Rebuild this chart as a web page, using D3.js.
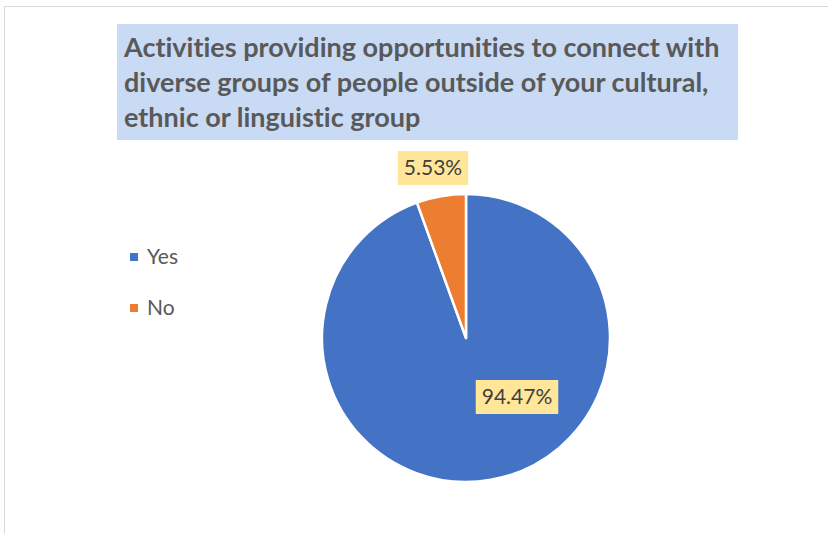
<!DOCTYPE html>
<html>
<head>
<meta charset="utf-8">
<script src="https://cdn.jsdelivr.net/npm/d3@7"></script>
<style>
  html, body { margin: 0; padding: 0; background: #fff; }
  svg { display: block; }
  text { font-variant-ligatures: none; }
</style>
</head>
<body>
<svg id="chart" width="828" height="534"></svg>
<script>
// Survey responses
const categories = ["Yes", "No"];
const values = [94.47, 5.53];
const colors = ["#4472C4", "#ED7D31"];
const titleLines = [
  "Activities providing opportunities to connect with",
  "diverse groups of people outside of your cultural,",
  "ethnic or linguistic group"
];

const svg = d3.select("#chart");
const font = "Lato, 'Open Sans', sans-serif";

// chart frame
svg.append("path")
  .attr("d", "M4.5,534 V6.5 H828")
  .attr("fill", "none")
  .attr("stroke", "#d9d9d9")
  .attr("stroke-width", 1);

// title block
svg.append("rect")
  .attr("x", 117).attr("y", 24).attr("width", 621).attr("height", 116)
  .attr("fill", "#C9DAF4");

const title = svg.append("text")
  .attr("font-family", font)
  .attr("font-weight", "bold")
  .attr("font-size", 27)
  .attr("fill", "#595959");
titleLines.forEach((line, i) => {
  title.append("tspan").attr("x", 124).attr("y", 57 + i * 35).text(line);
});

// pie
const cx = 466, cy = 338, r = 144;
const pie = d3.pie().sort(null).value(d => d)(values);
const arc = d3.arc().innerRadius(0).outerRadius(r);
const g = svg.append("g").attr("transform", `translate(${cx},${cy})`);
g.selectAll("path")
  .data(pie)
  .join("path")
  .attr("d", arc)
  .attr("fill", (d, i) => colors[i])
  .attr("stroke", "#fff")
  .attr("stroke-width", 2.5)
  .attr("stroke-linejoin", "round");

// data labels
const fmt = v => v.toFixed(2) + "%";
const labelPos = [
  [517, 397],   // Yes label centre
  [433, 168]    // No label centre
];
pie.forEach((d, i) => {
  const lg = svg.append("g").attr("transform", `translate(${labelPos[i][0]},${labelPos[i][1]})`);
  const t = lg.append("text")
    .attr("text-anchor", "middle")
    .attr("dy", "0.35em")
    .attr("font-family", font)
    .attr("font-size", 21)
    .attr("fill", "#404040")
    .text(fmt(d.data));
  const bb = t.node().getBBox();
  lg.insert("rect", "text")
    .attr("x", bb.x - 6).attr("y", -17)
    .attr("width", bb.width + 12).attr("height", 34)
    .attr("fill", "#FFE699");
});

// legend
const legend = svg.append("g");
categories.forEach((c, i) => {
  const y = 257 + i * 51;
  legend.append("rect")
    .attr("x", 130).attr("y", y - 4).attr("width", 8).attr("height", 8)
    .attr("fill", colors[i]);
  legend.append("text")
    .attr("x", 147).attr("y", y).attr("dy", "0.35em")
    .attr("font-family", font)
    .attr("font-size", 21)
    .attr("fill", "#595959")
    .text(c);
});
</script>
</body>
</html>
